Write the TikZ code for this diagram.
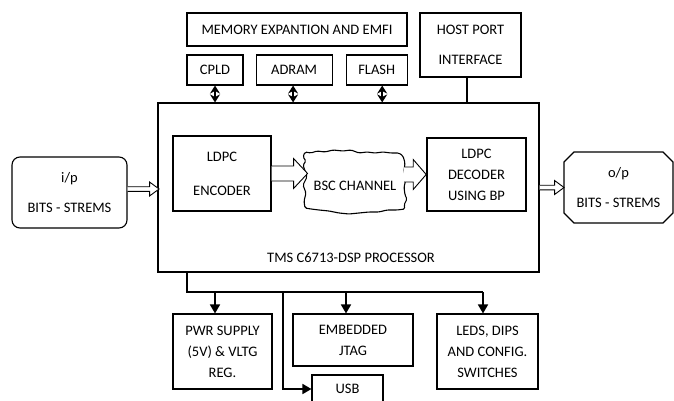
\documentclass[tikz,border=0pt]{standalone}
\usepackage{fontspec}
\setmainfont{Carlito}
\usetikzlibrary{arrows.meta,positioning,shapes.misc}
\newcommand{\lbfont}{\fontsize{14.5}{21}\selectfont}
\tikzset{
  box/.style={draw,line width=1.1pt,align=center,inner sep=2pt,font=\lbfont},
  rbox/.style={box,rounded corners=8pt},
  cbox/.style={box,chamfered rectangle,chamfered rectangle xsep=5pt,chamfered rectangle ysep=5pt},
  cloudline/.style={line width=1.1pt,rounded corners=1.5pt},
  wire/.style={line width=1.3pt},
  arr/.style={line width=1.7pt,-{Triangle[length=9pt,width=10pt]}},
  bidir/.style={line width=1.8pt,{Stealth[length=8pt,width=10pt]}-{Stealth[length=8pt,width=10pt]}},
  hollow/.style={draw,line width=0.9pt,fill=white,line join=miter},
  lbl/.style={font=\lbfont},
}

\begin{document}
\begin{tikzpicture}[x=1pt,y=-1pt]
  \useasboundingbox (0,0) rectangle (674,401);
  % memory side
  \node[box,minimum width=220pt,minimum height=33pt] (mem) at (297,29.5) {MEMORY EXPANTION AND EMFI};
  \node[box,minimum width=56pt,minimum height=30pt] (cpld) at (215,70) {CPLD};
  \node[box,minimum width=76pt,minimum height=30pt,right=12pt of cpld] (adram) {ADRAM};
  \node[box,minimum width=61pt,minimum height=30pt,right=13pt of adram] (flash) {FLASH};
  \node[box,minimum width=101pt,minimum height=64pt] (host) at (470.5,45) {HOST PORT\\[9pt]INTERFACE};
  % processor
  \node[box,minimum width=381pt,minimum height=169pt] (main) at (348.5,187.5) {};
  \node[lbl] (tms) at (351,258) {TMS C6713-DSP PROCESSOR};
  \node[box,minimum width=98pt,minimum height=75pt] (enc) at (222,173.5) {LDPC\\[13pt]ENCODER};
  \node[lbl,minimum width=102pt,minimum height=60pt] (chan) at (355,186) {BSC CHANNEL};
  \draw[cloudline,shift={([yshift=3pt]chan.center)}]
    (-52,-26) -- (-50,-31) -- (-44,-30) -- (-38,-32) -- (-30,-31) -- (-22,-33) -- (-12,-32)
    -- (-4,-33) -- (4,-30) -- (12,-31) -- (20,-30) -- (28,-31) -- (36,-30) -- (44,-30) -- (48,-27)
    -- (50,-20) -- (49,-12) -- (51,-4) -- (49,4) -- (50,12) -- (52,16) -- (49,22) -- (50,26)
    -- (42,27) -- (32,27) -- (24,29) -- (14,29) -- (4,30) -- (-6,31) -- (-16,30) -- (-26,28)
    -- (-36,27) -- (-44,26) -- (-50,25) -- (-51,18) -- (-49,10) -- (-52,2) -- (-48,-6)
    -- (-50,-12) -- (-52,-18) -- (-49,-22) -- cycle;
  \node[box,minimum width=99pt,minimum height=73pt] (dec) at (476.5,174.5) {LDPC\\DECODER\\USING BP};
  % streams
  \node[rbox,minimum width=115pt,minimum height=71pt] (inp) at (69.5,192.5) {i/p\\[9pt]BITS - STREMS};
  \node[cbox,minimum width=109pt,minimum height=71pt] (outp) at (618.5,187.5) {o/p\\[9pt]BITS - STREMS};
  % peripherals
  \node[box,minimum width=99pt,minimum height=75pt] (pwr) at (222.5,351.5) {PWR SUPPLY\\(5V) \& VLTG\\REG.};
  \node[box,minimum width=120pt,minimum height=52pt] (jtag) at (353,340) {EMBEDDED\\JTAG};
  \node[box,minimum width=101pt,minimum height=75pt] (leds) at (487.5,351.5) {LEDS, DIPS\\AND CONFIG.\\SWITCHES};
  \node[box,minimum width=71pt,minimum height=28pt] (usb) at (347.5,389) {USB};

  \draw[bidir] (cpld.south) -- (cpld.south |- main.north);
  \draw[bidir] ([xshift=-1pt]adram.south) coordinate (ad) -- (ad |- main.north);
  \draw[bidir] ([xshift=5.5pt]flash.south) coordinate (fl) -- (fl |- main.north);
  \draw[wire] ([xshift=-3.5pt]host.south) coordinate (hp) -- (hp |- main.north);

  % hollow arrows
  \path[hollow] ([yshift=3.5pt]inp.east) ++(0,-2.3) -- ++(22,0) -- ++(0,-4.7)
    -- ++(9.5,7) -- ++(-9.5,7) -- ++(0,-4.7) -- ++(-22,0);
  \path[hollow] (main.east) ++(0,-2.3) -- ++(15,0) -- ++(0,-4.7)
    -- ++(9.5,7) -- ++(-9.5,7) -- ++(0,-4.7) -- ++(-15,0);
  \path[hollow] (enc.east) ++(0,-7.5) -- ++(22,0) -- ++(0,-7.5)
    -- ++(14,15) -- ++(-14,15) -- ++(0,-7.5) -- ++(-22,0);
  \path[hollow] (chan.east |- dec.west) ++(-2,-7.5) -- ++(9,0) -- ++(0,-7.5)
    -- ++(13,15) -- ++(-13,15) -- ++(0,-7.5) -- ++(-9,0);

  % bus
  \coordinate (tap) at (187,292);
  \coordinate (b1) at (215,292);
  \coordinate (b2) at (283,292);
  \coordinate (b3) at (346,292);
  \coordinate (b4) at (483,292);
  \draw[wire] (tap |- main.south) -- (tap) -- (b4);
  \draw[arr] (b1) -- (b1 |- pwr.north);
  \draw[arr] (b3) -- (b3 |- jtag.north);
  \draw[arr] (b4) -- (b4 |- leds.north);
  \draw[arr] (b2) |- (usb.west);
\end{tikzpicture}
\end{document}
